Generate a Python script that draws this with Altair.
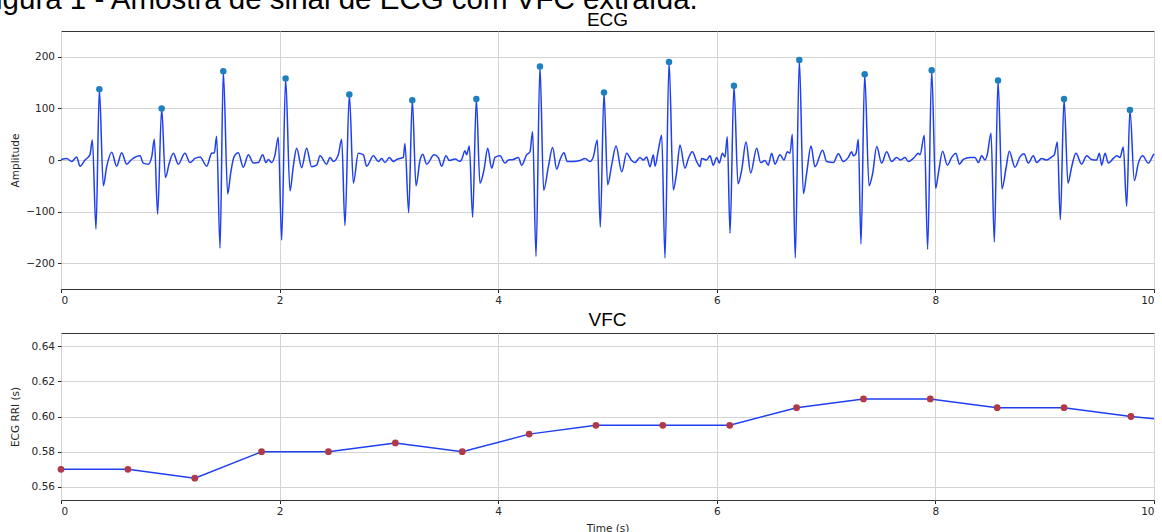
import altair as alt
import pandas as pd

BIG_TITLE = "Figura 1 - Amostra de sinal de ECG com VFC extraída."
TITLE_ECG = "ECG"
TITLE_VFC = "VFC"

ecg_time = [
    0.000, 0.052, 0.098, 0.143, 0.174, 0.220, 0.265, 0.287, 0.320, 0.351, 0.387, 0.418, 0.464, 0.509,
    0.555, 0.601, 0.647, 0.723, 0.753, 0.799, 0.830, 0.854, 0.884, 0.921, 0.955, 0.991, 1.028, 1.073,
    1.134, 1.180, 1.226, 1.272, 1.333, 1.378, 1.403, 1.424, 1.455, 1.485, 1.525, 1.552, 1.583, 1.622,
    1.668, 1.714, 1.760, 1.805, 1.845, 1.876, 1.897, 1.927, 1.958, 1.988, 2.019, 2.055, 2.095, 2.125,
    2.156, 2.202, 2.247, 2.293, 2.339, 2.370, 2.430, 2.461, 2.492, 2.537, 2.568, 2.598, 2.638, 2.675,
    2.720, 2.766, 2.797, 2.858, 2.903, 2.934, 2.964, 3.004, 3.041, 3.071, 3.132, 3.147, 3.181, 3.214,
    3.248, 3.285, 3.309, 3.346, 3.413, 3.452, 3.483, 3.522, 3.553, 3.605, 3.650, 3.666, 3.696, 3.711,
    3.736, 3.766, 3.800, 3.833, 3.870, 3.904, 3.940, 3.971, 4.016, 4.062, 4.093, 4.138, 4.184, 4.215,
    4.260, 4.291, 4.315, 4.346, 4.382, 4.416, 4.459, 4.498, 4.535, 4.565, 4.602, 4.632, 4.687, 4.748,
    4.794, 4.840, 4.870, 4.907, 4.934, 4.968, 5.001, 5.038, 5.078, 5.130, 5.175, 5.221, 5.252, 5.297,
    5.328, 5.358, 5.389, 5.419, 5.435, 5.465, 5.496, 5.526, 5.563, 5.602, 5.633, 5.663, 5.709, 5.740,
    5.776, 5.816, 5.846, 5.861, 5.907, 5.938, 5.968, 5.999, 6.023, 6.051, 6.075, 6.096, 6.121, 6.157,
    6.194, 6.228, 6.267, 6.310, 6.365, 6.401, 6.441, 6.471, 6.502, 6.532, 6.578, 6.615, 6.645, 6.670,
    6.691, 6.718, 6.755, 6.792, 6.822, 6.862, 6.898, 6.968, 7.005, 7.066, 7.112, 7.158, 7.203, 7.234,
    7.249, 7.274, 7.295, 7.319, 7.353, 7.393, 7.426, 7.463, 7.508, 7.554, 7.600, 7.646, 7.682, 7.722,
    7.752, 7.798, 7.844, 7.859, 7.899, 7.929, 7.966, 8.002, 8.027, 8.066, 8.109, 8.149, 8.188, 8.219,
    8.256, 8.317, 8.362, 8.393, 8.423, 8.454, 8.475, 8.509, 8.539, 8.573, 8.609, 8.646, 8.676, 8.728,
    8.774, 8.811, 8.850, 8.896, 8.927, 8.972, 9.018, 9.064, 9.088, 9.116, 9.143, 9.177, 9.213, 9.247,
    9.286, 9.338, 9.384, 9.430, 9.475, 9.500, 9.521, 9.552, 9.582, 9.628, 9.659, 9.689, 9.719, 9.750,
    9.780, 9.820, 9.857, 9.896, 9.948, 9.994, 10.000,
]
ecg_amp = [
    1, 3, -3, 6, -12, 0, 10, 39, -134, 137, -50, -13, 15, -12,
    14, -8, 1, 8, -6, -8, 6, 40, -105, 100, -34, -6, 13, -8,
    13, -5, 3, 6, -12, 13, 14, 46, -171, 172, -66, -26, 6, 14,
    -14, 10, -6, -5, 10, -5, 1, -5, 10, 44, -155, 158, -60, -13,
    23, -15, 23, -13, -10, 8, -8, 5, -3, 10, 40, -127, 127, -45,
    13, 10, -12, 8, -3, 3, -5, 5, -3, 1, 5, 32, -102, 116,
    -50, 0, 11, -8, 10, 5, -12, 8, -1, 2, -3, 1, 18, 10,
    27, -111, 118, -45, -19, 23, -16, 5, 8, -6, 0, 1, 5, -10,
    10, 16, 55, -187, 181, -59, -13, 24, -18, 0, 14, -3, -3, -1,
    3, -3, 6, 39, -130, 131, -48, -10, 27, -23, 13, -1, -5, 5,
    0, 6, -13, 10, -12, 19, 48, -190, 190, -58, -23, 29, -16, 3,
    16, -3, -13, 3, 0, 8, -10, 5, -6, 13, 6, 45, -142, 144,
    -46, -19, 35, -25, 23, -5, -1, -10, 13, -8, 10, 0, 16, 13,
    50, -190, 194, -65, -26, 27, -13, 19, -3, -5, 12, -3, 5, 16,
    8, 13, 40, -163, 166, -50, -26, 26, -6, 16, -3, 5, 0, 5,
    -3, 3, 13, 10, 48, -173, 174, -55, -26, 17, -10, 5, 13, -8,
    1, 5, 5, -5, 8, 0, 11, 52, -159, 154, -56, -16, 17, -14,
    6, 12, -6, 8, -5, 3, 0, 6, 10, 35, -116, 118, -45, -13,
    13, -8, 8, 1, 0, 13, -10, 13, -6, 3, 8, 5, 25, -90,
    97, -40, -6, 8, -6, 10, 12,
]

peak_time = [0.351, 0.921, 1.485, 2.055, 2.638, 3.214, 3.800, 4.382, 4.968,
             5.563, 6.157, 6.755, 7.353, 7.966, 8.573, 9.177, 9.780]
peak_amp = [137, 100, 172, 158, 127, 116, 118, 181, 131, 190, 144, 194, 166, 174, 154, 118, 97]

rri_time = [0.0, 0.612, 1.224, 1.835, 2.447, 3.059, 3.671, 4.283, 4.894,
            5.506, 6.118, 6.730, 7.342, 7.953, 8.565, 9.177, 9.789]
rri_value = [0.570, 0.570, 0.565, 0.580, 0.580, 0.585, 0.580, 0.590, 0.595,
             0.595, 0.595, 0.605, 0.610, 0.610, 0.605, 0.605, 0.600]
rri_end_time = [10.0]
rri_end_value = [0.5987]

LINE_BLUE = "#1f3ff0"
PEAK_COLOR = "#1f80c0"
RRI_COLOR = "#b03a48"

W = 1093
H_TOP = 258
H_BOT = 167

ecg_df = pd.DataFrame({"t": ecg_time, "v": ecg_amp})
peak_df = pd.DataFrame({"t": peak_time, "v": peak_amp})
rri_df = pd.DataFrame({"t": rri_time, "v": rri_value})
rri_line_df = pd.DataFrame({"t": rri_time + rri_end_time, "v": rri_value + rri_end_value})

x_scale = alt.Scale(domain=[0, 10], nice=False, zero=False)

x_axis_top = alt.Axis(values=[0, 2, 4, 6, 8, 10], format="d", title=None)
x_axis_bot = alt.Axis(values=[0, 2, 4, 6, 8, 10], format="d", title="Time (s)", titleY=23)

y_top_scale = alt.Scale(domain=[-250, 250], nice=False, zero=False)
y_top_axis = alt.Axis(values=[-200, -100, 0, 100, 200], format="d", title="Amplitude",
                      titleX=-41, titleY=H_TOP / 2)
y_bot_scale = alt.Scale(domain=[0.5526, 0.6474], nice=False, zero=False)
y_bot_axis = alt.Axis(values=[0.56, 0.58, 0.60, 0.62, 0.64], format=".2f", title="ECG RRI (s)",
                      titleX=-41, titleY=H_BOT / 2)

ecg_line = alt.Chart(ecg_df).mark_line(color=LINE_BLUE, strokeWidth=1.5, interpolate="monotone").encode(
    x=alt.X("t:Q", scale=x_scale, axis=x_axis_top),
    y=alt.Y("v:Q", scale=y_top_scale, axis=y_top_axis),
)
ecg_peaks = alt.Chart(peak_df).mark_circle(color=PEAK_COLOR, size=42, opacity=1).encode(
    x=alt.X("t:Q", scale=x_scale),
    y=alt.Y("v:Q", scale=y_top_scale),
)

big_title = alt.Chart(pd.DataFrame({"label": [BIG_TITLE]})).mark_text(
    font="Liberation Sans", fontSize=29.5, color="#000000", align="left", baseline="alphabetic"
).encode(text="label:N", x=alt.value(-83), y=alt.value(-22))

ecg_title = alt.Chart(pd.DataFrame({"label": [TITLE_ECG]})).mark_text(
    font="Liberation Sans", fontSize=19, color="#000000", align="center", baseline="alphabetic"
).encode(text="label:N", x=alt.value(W / 2), y=alt.value(-5))

vfc_title = alt.Chart(pd.DataFrame({"label": [TITLE_VFC]})).mark_text(
    font="Liberation Sans", fontSize=19, color="#000000", align="center", baseline="bottom"
).encode(text="label:N", x=alt.value(W / 2), y=alt.value(299))

top = alt.layer(ecg_line, ecg_peaks, big_title, ecg_title, vfc_title).properties(
    width=W, height=H_TOP
)

rri_line = alt.Chart(rri_line_df).mark_line(color=LINE_BLUE, strokeWidth=1.5).encode(
    x=alt.X("t:Q", scale=x_scale, axis=x_axis_bot),
    y=alt.Y("v:Q", scale=y_bot_scale, axis=y_bot_axis),
)
rri_points = alt.Chart(rri_df).mark_circle(color=RRI_COLOR, size=46, opacity=1).encode(
    x=alt.X("t:Q", scale=x_scale),
    y=alt.Y("v:Q", scale=y_bot_scale),
)
spacer_text = alt.Chart(pd.DataFrame({"label": [BIG_TITLE]})).mark_text(
    font="Liberation Sans", fontSize=29.5, opacity=0, align="left", baseline="alphabetic"
).encode(text="label:N", x=alt.value(-83), y=alt.value(80))

bottom = alt.layer(rri_line, rri_points, spacer_text).properties(width=W, height=H_BOT)

chart = (
    alt.vconcat(top, bottom, spacing=1)
    .resolve_scale(x="independent", y="independent")
    .properties(padding={"left": -23, "top": -16, "right": 0, "bottom": 0}, background="white")
    .configure_view(stroke="#333333", strokeWidth=1)
    .configure_axis(
        labelFont="DejaVu Sans",
        labelFontSize=10.5,
        labelColor="#262626",
        labelPadding=3,
        tickColor="#262626",
        tickSize=3.5,
        tickWidth=1,
        domain=False,
        grid=True,
        gridColor="#d4d4d4",
        gridWidth=1,
        titleFont="DejaVu Sans",
        titleFontSize=10.5,
        titleFontWeight="normal",
        titleColor="#262626",
    )
)

chart.save("out.html", embed_options={"renderer": "svg", "actions": False})
